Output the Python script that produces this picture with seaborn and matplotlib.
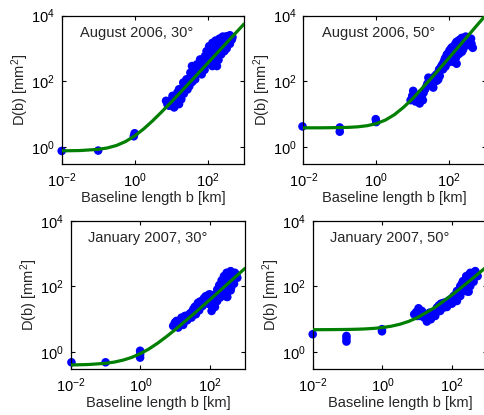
import numpy as np
import pandas as pd
import matplotlib
matplotlib.use("Agg")
import matplotlib.pyplot as plt
import seaborn as sns

# ---------------- data ----------------
panel_titles = ["August 2006, 30\u00b0", "August 2006, 50\u00b0",
                "January 2007, 30\u00b0", "January 2007, 50\u00b0"]

# fitted structure-function curves, D(b) in mm^2 at baseline b in km
fit_b = [0.01, 0.0316, 0.1, 0.178, 0.316, 0.562, 1, 1.78, 3.16, 5.62, 10, 31.6, 100, 316, 1000]
fit_aug30 = [0.756, 0.772, 0.838, 0.926, 1.10, 1.45, 2.15, 3.54, 6.32, 11.9, 22.9, 89, 352, 1400, 5575]
fit_aug50 = [3.80, 3.81, 3.87, 3.94, 4.09, 4.42, 5.1, 6.55, 9.6, 16.1, 29.7, 120, 522, 2316, 10330]
fit_jan30 = [0.406, 0.419, 0.456, 0.497, 0.57, 0.69, 0.9, 1.26, 1.89, 2.98, 4.86, 13.7, 40.1, 119, 354]
fit_jan50 = [4.81, 4.84, 4.9, 4.97, 5.08, 5.28, 5.6, 6.14, 7.05, 8.59, 11.15, 22.7, 55.3, 147, 406]

# short-baseline points (b in km, D in mm^2)
short_b_aug30 = [0.01, 0.1, 0.95, 1.0]
short_D_aug30 = [0.75, 0.77, 2.1, 2.6]
short_b_aug50 = [0.0095, 0.1, 0.1, 0.97, 1.0]
short_D_aug50 = [4.2, 3.9, 2.9, 7.0, 5.7]
short_b_jan30 = [0.0105, 0.1, 0.98, 0.98, 0.98]
short_D_jan30 = [0.49, 0.49, 1.1, 0.85, 0.68]
short_b_jan50 = [0.01, 0.093, 0.093, 0.093, 0.97, 0.97]
short_D_jan50 = [3.5, 3.1, 2.6, 2.1, 5.0, 4.3]

# long-baseline clusters, stored as log10(b [km]) and log10(D [mm^2])
clu_logb_aug30 = [0.862, 0.951, 1.084, 1.218, 0.996, 1.129, 1.244, 1.307, 1.396, 1.218,
                  1.484, 1.422, 1.529, 1.618, 1.573, 1.707, 1.751, 1.662, 1.84, 1.884,
                  1.796, 1.929, 1.973, 2.044, 2.133, 2.222, 2.329, 2.418, 2.524, 2.613,
                  2.667, 2.613, 2.524, 2.462, 2.373, 2.267, 2.196, 2.258, 2.133, 2.062,
                  2.107, 2.284, 2.418, 1.991, 1.84, 1.707, 1.44, 1.173, 1.04, 1.333,
                  1.529, 1.929, 2.551, 2.684,
                  0.90, 1.00, 1.15, 1.28, 1.35, 1.45, 1.50, 1.58, 1.65, 1.68,
                  1.78, 1.80, 1.88, 1.92, 1.95, 2.00, 2.05, 2.10, 2.18, 2.20,
                  2.30, 2.35, 2.40, 2.45, 2.50, 2.58, 2.62, 2.30, 2.20, 2.05]
clu_logD_aug30 = [1.404, 1.253, 1.202, 1.303, 1.424, 1.485, 1.555, 1.707, 1.808, 1.757,
                  1.959, 2.060, 2.111, 2.313, 2.464, 2.515, 2.262, 2.060, 2.212, 2.464,
                  2.666, 2.767, 2.919, 3.070, 3.171, 3.242, 3.303, 3.363, 3.373, 3.404,
                  3.272, 3.141, 2.999, 2.919, 2.818, 2.717, 2.565, 2.464, 2.464, 2.666,
                  2.868, 3.020, 3.141, 2.535, 2.414, 2.313, 1.909, 1.656, 1.555, 1.959,
                  2.262, 2.565, 3.222, 3.343,
                  1.30, 1.33, 1.38, 1.45, 1.62, 1.75, 1.85, 1.98, 2.20, 2.40,
                  2.40, 2.55, 2.62, 2.35, 2.65, 2.80, 2.90, 2.75, 2.95, 3.10,
                  3.15, 2.95, 3.05, 3.25, 3.10, 3.30, 3.28, 2.65, 2.70, 2.55]

clu_logb_aug50 = [0.987, 1.076, 1.191, 1.28, 1.12, 1.014, 0.943, 1.342, 1.405, 1.52,
                  1.609, 1.654, 1.725, 1.814, 1.876, 1.938, 2.009, 2.08, 2.169, 2.258,
                  2.347, 2.454, 2.543, 2.614, 2.649, 2.498, 2.383, 2.276, 2.187, 2.205,
                  2.098, 2.009, 1.742, 1.565, 1.254, 1.431, 1.831, 2.142, 2.32, 2.409,
                  1.964, 1.654, 1.165,
                  1.05, 1.15, 1.25, 1.30, 1.38, 1.47, 1.55, 1.60, 1.70, 1.78,
                  1.85, 1.90, 1.97, 2.04, 2.05, 2.12, 2.20, 2.23, 2.30, 2.35,
                  2.45, 2.50, 2.55, 2.60, 2.12, 1.90, 1.70]
clu_logD_aug50 = [1.555, 1.384, 1.323, 1.424, 1.586, 1.707, 1.424, 1.757, 1.929, 1.858,
                  2.030, 2.212, 2.363, 2.515, 2.666, 2.818, 2.939, 3.040, 3.141, 3.242,
                  3.323, 3.363, 3.303, 3.141, 3.020, 3.101, 2.969, 2.838, 2.717, 2.535,
                  2.596, 2.717, 2.161, 1.808, 1.656, 2.111, 2.363, 2.919, 3.121, 3.222,
                  2.565, 2.010, 1.505,
                  1.50, 1.45, 1.55, 1.65, 1.85, 1.95, 2.05, 2.15, 2.25, 2.45,
                  2.58, 2.72, 2.85, 2.80, 3.00, 3.05, 3.20, 2.95, 3.27, 2.90,
                  3.10, 3.30, 3.20, 3.30, 2.70, 2.45, 2.05]

clu_logb_jan30 = [0.94, 1.084, 1.228, 1.036, 1.18, 1.342, 1.419, 1.515, 1.611, 1.591,
                  1.706, 1.821, 1.917, 1.946, 2.042, 2.138, 2.138, 2.205, 2.262, 2.329,
                  2.396, 2.473, 2.588, 2.712, 2.779, 2.684, 2.588, 2.492, 2.425, 2.329,
                  1.994, 1.783, 1.276, 1.467, 1.132, 2.569, 2.645, 2.521, 1.898, 1.687,
                  2.281,
                  0.99, 1.10, 1.15, 1.25, 1.30, 1.38, 1.45, 1.55, 1.56, 1.65,
                  1.65, 1.75, 1.85, 1.87, 1.96, 2.00, 2.08, 2.10, 2.18, 2.20,
                  2.30, 2.35, 2.40, 2.45, 2.50, 2.55, 2.62, 2.70, 2.75, 2.60, 2.50]
clu_logD_jan30 = [0.798, 0.748, 0.829, 0.95, 1.051, 0.97, 1.172, 1.303, 1.404, 1.152,
                  1.536, 1.637, 1.707, 1.475, 1.253, 1.374, 1.738, 1.909, 2.041, 2.182,
                  2.313, 2.414, 2.465, 2.414, 2.263, 2.081, 1.879, 1.677, 1.707, 1.859,
                  1.758, 1.404, 1.101, 1.051, 0.869, 2.212, 2.313, 2.061, 1.556, 1.273,
                  1.657,
                  0.90, 0.85, 0.95, 1.00, 1.10, 1.05, 1.20, 1.25, 1.38, 1.40,
                  1.50, 1.55, 1.55, 1.70, 1.75, 1.45, 1.35, 1.65, 1.78, 1.55,
                  2.00, 1.75, 2.15, 1.90, 2.30, 2.05, 2.40, 2.25, 2.35, 1.95, 1.85]

clu_logb_jan50 = [0.911, 1.036, 1.132, 1.228, 1.275, 1.39, 1.084, 1.467, 1.563, 1.678,
                  1.802, 1.946, 2.042, 2.137, 2.233, 2.31, 2.405, 2.52, 2.664, 2.731,
                  2.616, 2.52, 2.473, 2.329, 2.137, 1.994, 1.85, 1.658, 1.515, 2.377,
                  2.233, 2.568, 1.754,
                  0.97, 1.00, 1.15, 1.20, 1.32, 1.35, 1.42, 1.50, 1.60, 1.62,
                  1.72, 1.75, 1.88, 1.90, 2.00, 2.05, 2.10, 2.18, 2.20, 2.28,
                  2.28, 2.35, 2.40, 2.45, 2.48, 2.58, 2.60, 2.68, 2.55, 2.42]
clu_logD_jan50 = [1.152, 1.334, 1.253, 1.152, 0.93, 1.0, 1.101, 1.172, 1.354, 1.475,
                  1.505, 1.606, 1.707, 1.859, 2.01, 2.162, 2.313, 2.414, 2.465, 2.313,
                  2.142, 2.01, 1.839, 1.879, 1.556, 1.475, 1.374, 1.253, 1.101, 2.111,
                  1.707, 2.263, 1.354,
                  1.22, 1.10, 1.15, 1.05, 1.05, 1.20, 1.10, 1.25, 1.25, 1.42,
                  1.35, 1.50, 1.55, 1.45, 1.60, 1.55, 1.75, 1.70, 1.90, 1.85,
                  2.08, 1.95, 2.20, 2.00, 2.35, 2.40, 2.30, 2.40, 2.15, 1.85]

x_ticks = [1e-2, 1e0, 1e2]
y_ticks = [1e0, 1e2, 1e4]

# ---------------- style ----------------
sns.set_theme(style="ticks")
plt.rcParams["font.family"] = ["Liberation Sans", "DejaVu Sans"]
plt.rcParams["mathtext.default"] = "regular"
plt.rcParams["axes.unicode_minus"] = True

W, H = 485, 415
fig = plt.figure(figsize=(W / 100, H / 100), dpi=100)
fig.patch.set_facecolor("white")

# axes boxes in pixels: left, top, right, bottom
boxes = [(61.7, 15.7, 244.0, 164.0),
         (303.3, 15.7, 485.6, 164.0),
         (70.7, 220.7, 245.0, 369.3),
         (312.7, 220.7, 487.0, 369.3)]

panels = [
    (fit_aug30, short_b_aug30, short_D_aug30, clu_logb_aug30, clu_logD_aug30),
    (fit_aug50, short_b_aug50, short_D_aug50, clu_logb_aug50, clu_logD_aug50),
    (fit_jan30, short_b_jan30, short_D_jan30, clu_logb_jan30, clu_logD_jan30),
    (fit_jan50, short_b_jan50, short_D_jan50, clu_logb_jan50, clu_logD_jan50),
]

for (l, t, r, b), title, (fit, sb, sd, cb, cd) in zip(boxes, panel_titles, panels):
    ax = fig.add_axes([l / W, 1 - b / H, (r - l) / W, (b - t) / H])
    ax.set_xscale("log")
    ax.set_yscale("log")

    pts = pd.DataFrame({
        "b": list(sb) + list(10 ** np.array(cb)),
        "D": list(sd) + list(10 ** np.array(cd)),
    })
    sns.scatterplot(data=pts, x="b", y="D", ax=ax, color="#0000FF", s=38,
                    linewidth=0, edgecolor="none", alpha=1, clip_on=False,
                    zorder=2, legend=False)
    curve = pd.DataFrame({"b": fit_b, "D": fit})
    sns.lineplot(data=curve, x="b", y="D", ax=ax, color="#007F00", lw=2.3,
                 zorder=3, legend=False)

    ax.set_xlim(1e-2, 1e3)
    ax.set_ylim(0.3, 1e4)
    ax.set_xticks(x_ticks)
    ax.set_yticks(y_ticks)
    ax.minorticks_off()
    ax.tick_params(direction="in", top=True, right=True, length=3, width=0.8,
                   labelsize=10.5, pad=5, colors="black")
    for sp in ax.spines.values():
        sp.set_linewidth(0.9)
        sp.set_color("black")
    ax.set_xlabel("Baseline length b [km]", fontsize=10.5, labelpad=1)
    ax.set_ylabel("D(b) [mm$^2$]", fontsize=10.5, labelpad=0)
    ax.text(0.10, 0.885, title, transform=ax.transAxes, fontsize=10.5,
            ha="left", va="center")
    ax.set_facecolor("white")

fig.savefig("out.png", dpi=100, facecolor="white")
